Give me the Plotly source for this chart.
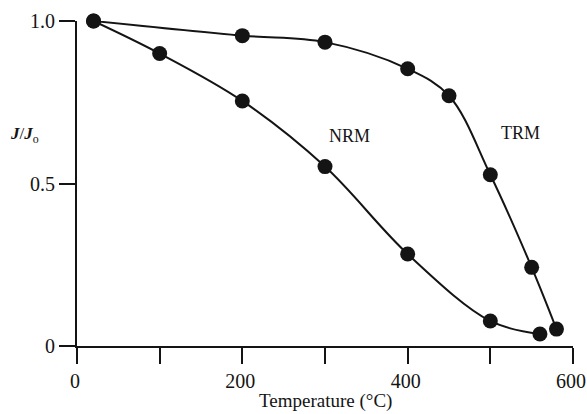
import plotly.graph_objects as go

trm_temp = [20, 200, 300, 400, 450, 500, 550, 580]
trm_val = [1.0, 0.955, 0.935, 0.853, 0.77, 0.527, 0.242, 0.052]
nrm_temp = [20, 100, 200, 300, 400, 500, 560]
nrm_val = [1.0, 0.90, 0.754, 0.552, 0.283, 0.077, 0.037]

x_ticks = [0, 200, 400, 600]
x_tick_text = ["0", "200", "400", "600"]
y_ticks = [0, 0.5, 1.0]
y_tick_text = ["0", "0.5", "1.0"]

ink = "#141414"
font_family = "Liberation Serif, Times New Roman, serif"

fig = go.Figure()
for xs, ys in [(trm_temp, trm_val), (nrm_temp, nrm_val)]:
    fig.add_trace(go.Scatter(
        x=xs, y=ys, mode="lines+markers",
        line=dict(color=ink, width=2, shape="spline", smoothing=1.0),
        marker=dict(color=ink, size=15),
        cliponaxis=False, showlegend=False,
    ))

fig.add_annotation(x=330, y=0.646, text="NRM", showarrow=False,
                   font=dict(size=18, color=ink, family=font_family))
fig.add_annotation(x=536, y=0.655, text="TRM", showarrow=False,
                   font=dict(size=18, color=ink, family=font_family))
fig.add_annotation(xref="paper", yref="paper", x=-0.105, y=0.648,
                   text="<i><b>J</b></i>/<i><b>J</b></i><sub>o</sub>",
                   showarrow=False, xanchor="center", yanchor="middle",
                   font=dict(size=17, color=ink, family=font_family))
fig.add_annotation(xref="paper", yref="paper", x=0.5, y=-0.17,
                   text="Temperature (°C)", showarrow=False,
                   xanchor="center", yanchor="middle",
                   font=dict(size=19, color=ink, family=font_family))

fig.update_layout(
    width=587, height=414,
    margin=dict(l=77, r=14, t=21, b=68),
    paper_bgcolor="white", plot_bgcolor="white",
    font=dict(family=font_family, size=19, color=ink),
)
fig.update_xaxes(
    range=[0, 600], tickvals=x_ticks, ticktext=x_tick_text,
    ticks="outside", ticklen=16, tickwidth=2, tickcolor=ink,
    minor=dict(ticks="outside", dtick=100, tick0=0, ticklen=16,
               tickwidth=2, tickcolor=ink, showgrid=False),
    showline=True, linecolor=ink, linewidth=2, showgrid=False, zeroline=False,
    tickfont=dict(size=20), automargin=False, ticklabeloverflow="allow",
    ticklabelshift=-2,
)
fig.update_yaxes(
    range=[0, 1.0], tickvals=y_ticks, ticktext=y_tick_text,
    ticks="outside", ticklen=16, tickwidth=2, tickcolor=ink,
    showline=True, linecolor=ink, linewidth=2, showgrid=False, zeroline=False,
    tickfont=dict(size=20), automargin=False,
)

fig.write_html(
    "out.html",
    config={"displayModeBar": False},
    post_script="document.body.style.margin='0';document.body.style.overflow='hidden';",
)
